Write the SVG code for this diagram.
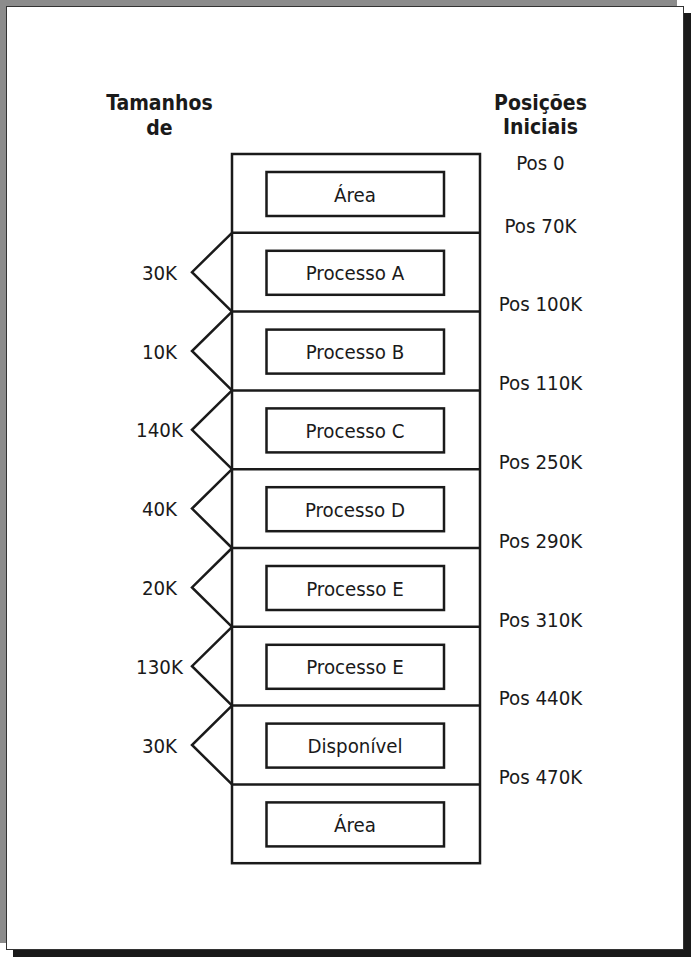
<svg xmlns="http://www.w3.org/2000/svg" width="691" height="957" viewBox="0 0 691 957">
<style>
.t{font-family:"DejaVu Sans Condensed","DejaVu Sans",sans-serif;font-stretch:condensed;font-size:20.3px;fill:#1a1a1a;text-anchor:middle}
.b{font-weight:bold;font-size:21px}
.box{fill:#fff;stroke:#1a1a1a;stroke-width:2.5}
.sep{stroke:#1a1a1a;stroke-width:2.5;fill:none}
.chev{stroke:#1a1a1a;stroke-width:2.5;fill:none;stroke-linejoin:miter}
</style>
<rect x="0" y="0" width="677" height="943" fill="#8c8c8c"/>
<rect x="13" y="13" width="678" height="944" fill="#1a1a1a"/>
<rect x="6.5" y="6.5" width="677" height="943" fill="#fff" stroke="#333" stroke-width="1"/>
<g id="headers">
<text class="t b" x="159.5" y="110">Tamanhos</text>
<text class="t b" x="159.5" y="135">de</text>
<text class="t b" x="540.5" y="110">Posições</text>
<text class="t b" x="540.5" y="134">Iniciais</text>
</g>
<g id="memory">
<rect class="box" x="232" y="154" width="248" height="709.2"/>
<path class="sep" d="M232 232.8H480M232 311.6H480M232 390.4H480M232 469.2H480M232 548H480M232 626.8H480M232 705.6H480M232 784.4H480"/>
</g>
<g id="n0"><rect class="box" x="266.5" y="172" width="177.5" height="44"/><text class="t" x="355" y="201.5">Área</text></g>
<g id="n1"><rect class="box" x="266.5" y="250.8" width="177.5" height="44"/><text class="t" x="355" y="280.3">Processo A</text></g>
<g id="n2"><rect class="box" x="266.5" y="329.6" width="177.5" height="44"/><text class="t" x="355" y="359.1">Processo B</text></g>
<g id="n3"><rect class="box" x="266.5" y="408.4" width="177.5" height="44"/><text class="t" x="355" y="437.9">Processo C</text></g>
<g id="n4"><rect class="box" x="266.5" y="487.2" width="177.5" height="44"/><text class="t" x="355" y="516.7">Processo D</text></g>
<g id="n5"><rect class="box" x="266.5" y="566" width="177.5" height="44"/><text class="t" x="355" y="595.5">Processo E</text></g>
<g id="n6"><rect class="box" x="266.5" y="644.8" width="177.5" height="44"/><text class="t" x="355" y="674.3">Processo E</text></g>
<g id="n7"><rect class="box" x="266.5" y="723.6" width="177.5" height="44"/><text class="t" x="355" y="753.1">Disponível</text></g>
<g id="n8"><rect class="box" x="266.5" y="802.4" width="177.5" height="44"/><text class="t" x="355" y="831.9">Área</text></g>
<g id="connectors">
<path class="chev" d="M232 232.8L192 272.2L232 311.6"/>
<path class="chev" d="M232 311.6L192 351L232 390.4"/>
<path class="chev" d="M232 390.4L192 429.8L232 469.2"/>
<path class="chev" d="M232 469.2L192 508.6L232 548"/>
<path class="chev" d="M232 548L192 587.4L232 626.8"/>
<path class="chev" d="M232 626.8L192 666.2L232 705.6"/>
<path class="chev" d="M232 705.6L192 745L232 784.4"/>
</g>
<g id="sizes">
<text class="t" x="159.5" y="279.7">30K</text>
<text class="t" x="159.5" y="358.5">10K</text>
<text class="t" x="159.5" y="437.3">140K</text>
<text class="t" x="159.5" y="516.1">40K</text>
<text class="t" x="159.5" y="594.9">20K</text>
<text class="t" x="159.5" y="673.7">130K</text>
<text class="t" x="159.5" y="752.5">30K</text>
</g>
<g id="positions">
<text class="t" x="540.5" y="170">Pos 0</text>
<text class="t" x="540.5" y="233">Pos 70K</text>
<text class="t" x="540.5" y="311">Pos 100K</text>
<text class="t" x="540.5" y="390">Pos 110K</text>
<text class="t" x="540.5" y="469">Pos 250K</text>
<text class="t" x="540.5" y="548">Pos 290K</text>
<text class="t" x="540.5" y="627">Pos 310K</text>
<text class="t" x="540.5" y="705">Pos 440K</text>
<text class="t" x="540.5" y="784">Pos 470K</text>
</g>
</svg>
